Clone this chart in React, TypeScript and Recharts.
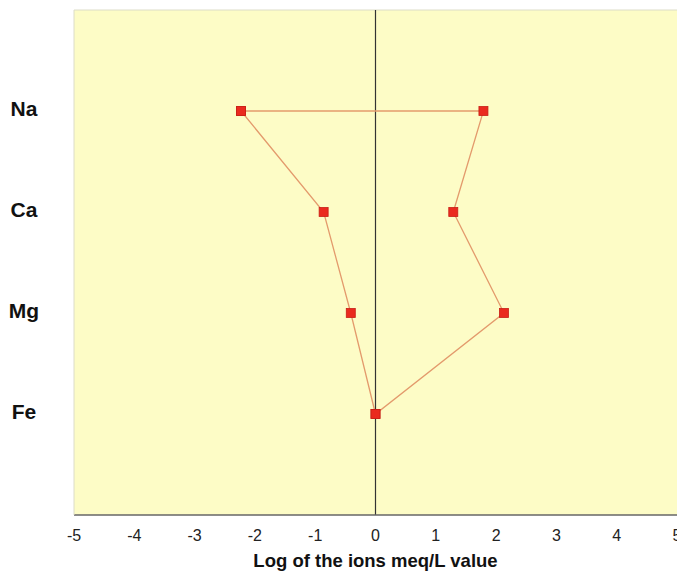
import React from 'react';
import { ScatterChart, Scatter, XAxis, YAxis, CartesianGrid, ReferenceLine } from 'recharts';

const ions = ['Na', 'Ca', 'Mg', 'Fe'];
const ionLevels = [4, 3, 2, 1];
const leftValues = [-2.23, -0.86, -0.41, 0];
const rightValues = [1.79, 1.29, 2.13, 0];
const xTicks = [-5, -4, -3, -2, -1, 0, 1, 2, 3, 4, 5];

// polygon order: left Na -> right side top to bottom -> left side bottom to top -> back to left Na
const polygon = [
  { x: leftValues[0], y: ionLevels[0] },
  ...rightValues.map((v, i) => ({ x: v, y: ionLevels[i] })),
  ...leftValues.map((v, i) => ({ x: v, y: ionLevels[i] })).reverse(),
];

const SquareMarker = (props: any) => {
  const { cx, cy } = props;
  if (cx == null || cy == null) return null;
  return <rect x={cx - 4.5} y={cy - 4.5} width={9} height={9} fill="#ea2a1e" stroke="#c81e16" strokeWidth={0.8} />;
};

const IonTick = (props: any) => {
  const { y, payload } = props;
  const idx = ionLevels.indexOf(payload.value);
  if (idx < 0) return null;
  return (
    <text x={24} y={y - 3} textAnchor="middle" dominantBaseline="central" fontFamily="Arial, 'Liberation Sans', sans-serif" fontWeight="bold" fontSize={21} fill="#111">
      {ions[idx]}
    </text>
  );
};

export default function App() {
  return (
    <div style={{ position: 'absolute', left: 0, top: 0, width: 677, height: 571, overflow: 'hidden', background: '#fff' }}>
      <ScatterChart width={700} height={571} margin={{ top: 10, right: 23, bottom: 0, left: 0 }}>
        <CartesianGrid horizontal={false} vertical={false} fill="#fdfcc6" />
        <XAxis
          type="number"
          dataKey="x"
          domain={[-5, 5]}
          ticks={xTicks}
          interval={0}
          height={56}
          tickSize={0}
          tickMargin={15}
          axisLine={{ stroke: '#666', strokeWidth: 1.5 }}
          tick={{ fontSize: 16, fill: '#222', fontFamily: "Arial, 'Liberation Sans', sans-serif" }}
          label={{
            value: 'Log of the ions meq/L value',
            position: 'insideBottom',
            offset: 4,
            style: { fontSize: 18.5, fontWeight: 'bold', fill: '#111', fontFamily: "Arial, 'Liberation Sans', sans-serif" },
          }}
        />
        <YAxis
          type="number"
          dataKey="y"
          domain={[0, 5]}
          ticks={ionLevels}
          width={74}
          axisLine={{ stroke: '#dcdcc8', strokeWidth: 1 }}
          tickLine={false}
          tick={<IonTick />}
        />
        <ReferenceLine y={5} stroke="#dcdcc8" strokeWidth={1} />
        <ReferenceLine x={0} stroke="#333" strokeWidth={1.2} />
        <Scatter
          data={polygon}
          line={{ stroke: '#e39a6c', strokeWidth: 1.3 }}
          lineType="joint"
          shape={<SquareMarker />}
          isAnimationActive={false}
        />
      </ScatterChart>
    </div>
  );
}
